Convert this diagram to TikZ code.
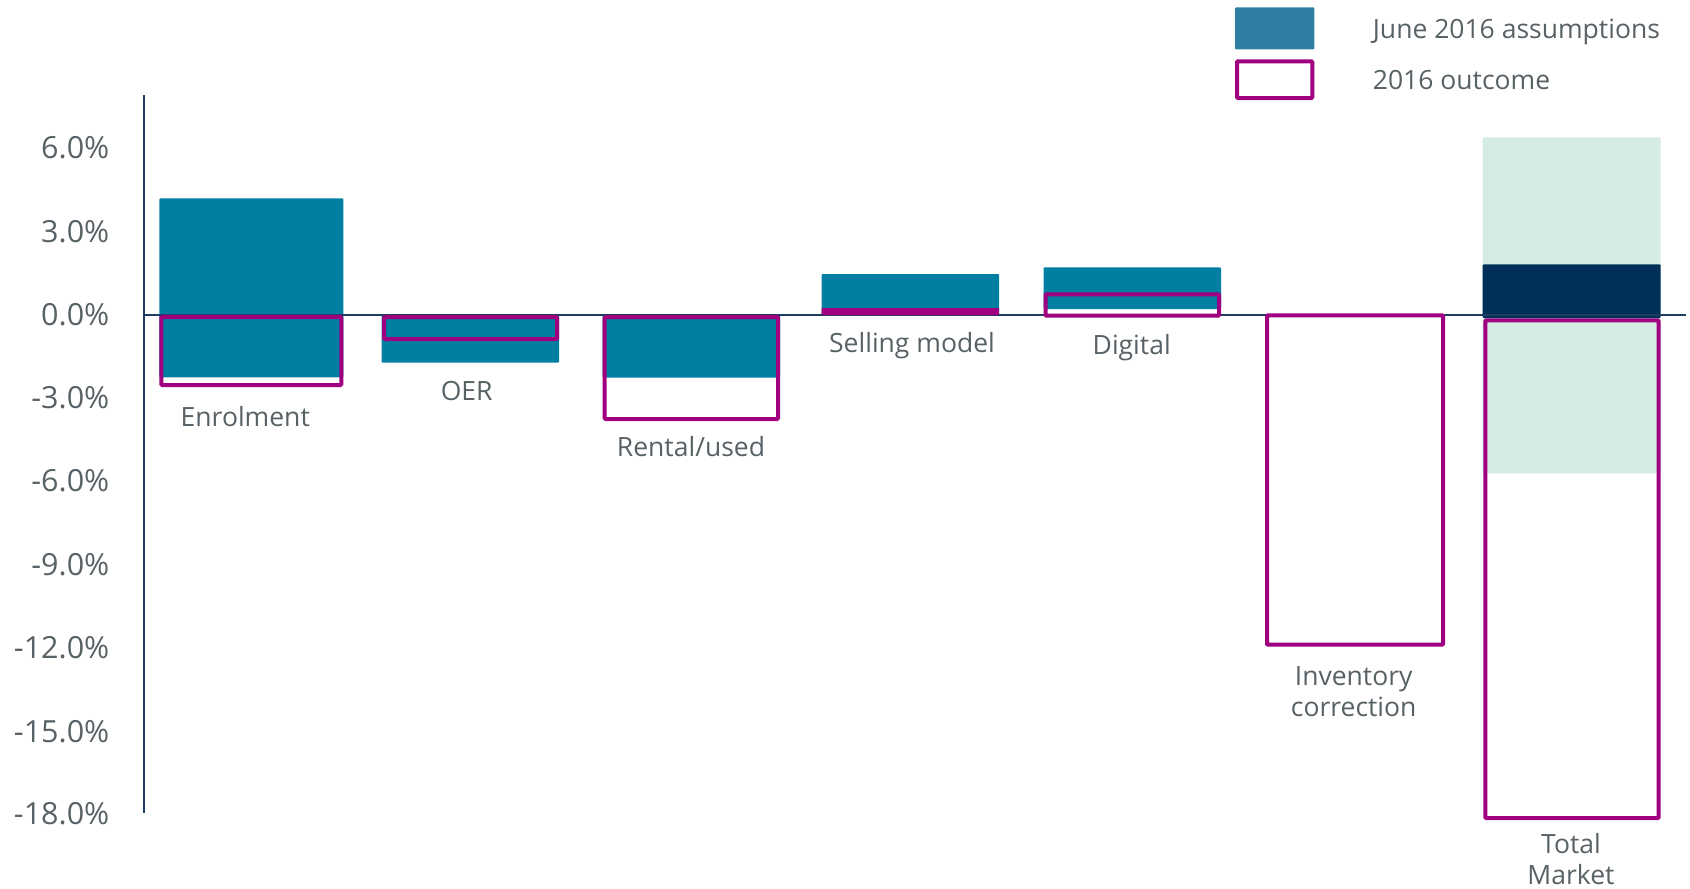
\documentclass[tikz,border=0pt]{standalone}
\usepackage{fontspec}
\setmainfont{Open Sans}
\definecolor{barblue}{HTML}{007FA3}
\definecolor{legblue}{HTML}{2E7FA1}
\definecolor{mag}{HTML}{A0007F}
\definecolor{navybar}{HTML}{003057}
\definecolor{lightgreen}{HTML}{D5EBE5}
\definecolor{axisnavy}{HTML}{1F3D63}
\definecolor{txt}{HTML}{586165}
\begin{document}
\begin{tikzpicture}[x=1pt,y=-1pt,
  assume/.style={fill=barblue, rounded corners=1pt},
  outcome/.style={draw=mag, line width=4pt, rounded corners=1pt},
  cat/.style={font=\fontsize{26.5}{31}\selectfont, text=txt, align=center, inner sep=0pt, anchor=base},
  ylab/.style={font=\fontsize{30.5}{36}\selectfont, text=txt, anchor=east, inner sep=0pt},
  legtext/.style={font=\fontsize{26.5}{31}\selectfont, text=txt, anchor=base west, inner sep=0pt}]
\useasboundingbox (0,0) rectangle (1690,889);

% total market background range
\fill[lightgreen, rounded corners=1pt] (1482.7,137.3) rectangle (1660.7,473.3);

% June 2016 assumptions (blue bars)
\fill[assume] (159.3,198.3) rectangle (343.3,377.3);
\fill[assume] (381.7,315) rectangle (559,362.7);
\fill[assume] (602.7,315) rectangle (780,377.7);
\fill[assume] (821.5,274) rectangle (999,315);
\fill[assume] (1043.5,267.3) rectangle (1221,309);
\fill[navybar, rounded corners=1pt] (1482.7,264.3) rectangle (1660.7,318);

% axes
\coordinate (ytop) at (144,95);
\coordinate (ybot) at (144,813);
\coordinate (zl) at (144,315);
\coordinate (zr) at (1686,315);
\draw[axisnavy, line width=1.5pt] (zl) -- (zr);
\draw[axisnavy, line width=2pt] (ytop) -- (ybot);

% 2016 outcome (magenta outlines)
\draw[outcome] (161.3,317) rectangle (341.3,385);
\draw[outcome] (384,317) rectangle (557,339);
\draw[outcome] (604.7,317) rectangle (778,419);
\fill[mag, rounded corners=1pt] (821.5,308) rectangle (999,315);
\draw[outcome] (1045.5,294.3) rectangle (1219,315.7);
\draw[outcome] (1267,315.3) rectangle (1443,644.7);
\draw[outcome] (1485.3,320.3) rectangle (1658.7,818);

% y-axis labels
\node[ylab] (t6) at (109.5,147.7) {6.0\%};
\node[ylab] (t3) at (109.5,231.5) {3.0\%};
\node[ylab] (t0) at (109.5,315) {0.0\%};
\node[ylab] (tm3) at (109.5,397.5) {-3.0\%};
\node[ylab] (tm6) at (109.5,481) {-6.0\%};
\node[ylab] (tm9) at (109.5,564.5) {-9.0\%};
\node[ylab] (tm12) at (109.5,648) {-12.0\%};
\node[ylab] (tm15) at (109.5,731.5) {-15.0\%};
\node[ylab] (tm18) at (109.5,814) {-18.0\%};

% category labels
\node[cat] (enr) at (245.3,426.5) {Enrolment};
\node[cat] (oer) at (466.7,400.7) {OER};
\node[cat] (rent) at (691,456.7) {Rental/used};
\node[cat] (sell) at (912,352) {Selling model};
\node[cat] (dig) at (1131.7,354) {Digital};
\node[cat] (inv) at (1353.7,716) {Inventory\\correction};
\node[cat] (tot) at (1571,884.5) {Total\\Market};

% legend
\fill[legblue, rounded corners=1pt] (1235,7.3) rectangle (1314.3,49.3);
\draw[outcome] (1237,61.3) rectangle (1312.3,98);
\node[legtext] (l1) at (1372.7,38.3) {June 2016 assumptions};
\node[legtext] (l2) at (1372.7,89.3) {2016 outcome};
\end{tikzpicture}
\end{document}
